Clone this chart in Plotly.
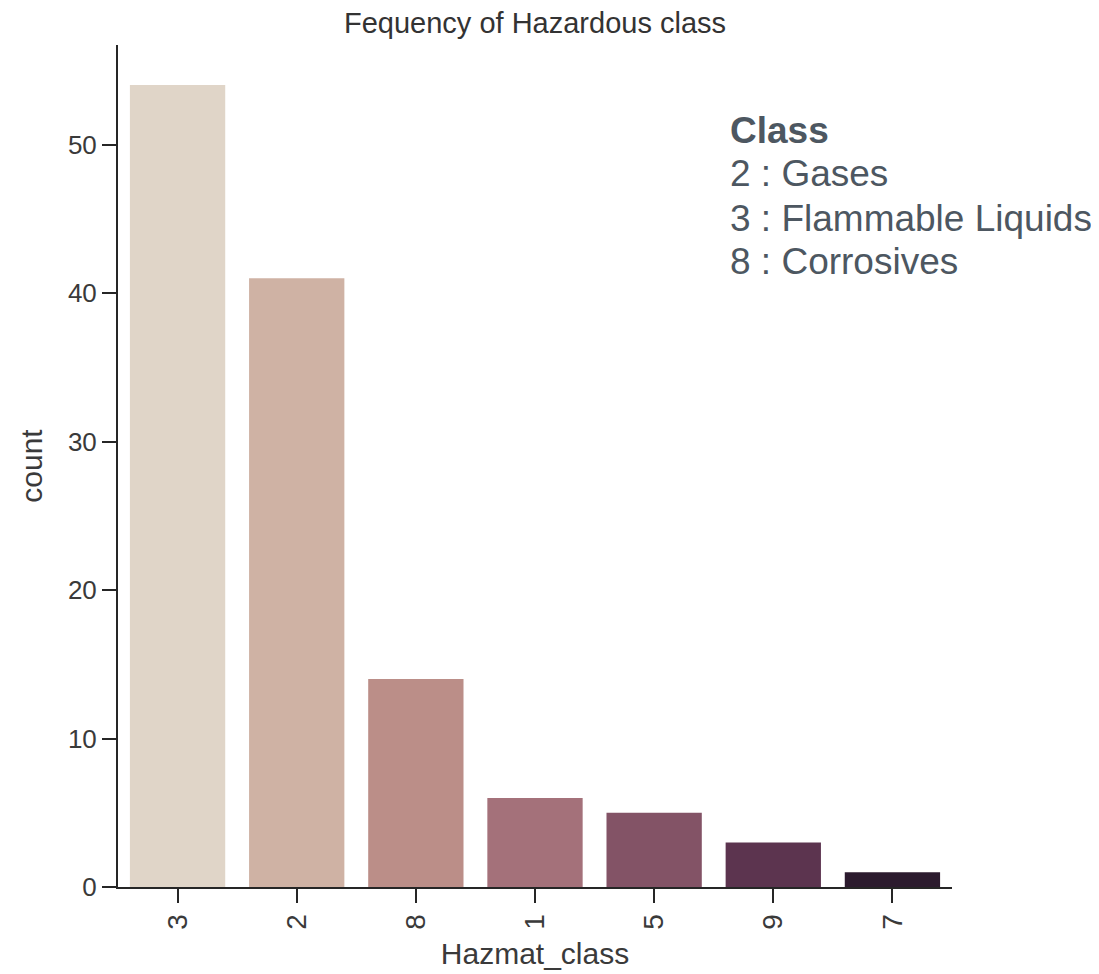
import plotly.graph_objects as go

# Data
categories = ["3", "2", "8", "1", "5", "9", "7"]
counts = [54, 41, 14, 6, 5, 3, 1]
legend_title = "Class"
legend_lines = ["2 : Gases", "3 : Flammable Liquids", "8 : Corrosives"]

bar_colors = ["#e0d5c8", "#cfb2a4", "#bb8e88", "#a4717a", "#835366", "#5c344f", "#2c1b2e"]

W, H = 1099, 974
OFF = 8  # page body margin
L, R, T, B = 118 - OFF, 952 - OFF, 45 - OFF, 887 - OFF  # plot area in figure px

fig = go.Figure(go.Bar(
    x=categories, y=counts,
    marker=dict(color=bar_colors, line=dict(width=0)),
    width=0.8,
))

axis_color = "#262626"
fam = "Liberation Sans, Arial, sans-serif"
ytick_font = dict(family=fam, size=26, color="#3a3a3a")
xtick_font = dict(family=fam, size=28, color="#3a3a3a")
label_font = dict(family=fam, size=30, color="#3a3a3a")

fig.update_layout(
    width=W, height=H,
    margin=dict(l=L, r=W - R, t=T, b=H - B, pad=0),
    plot_bgcolor="white", paper_bgcolor="white",
    showlegend=False,
    title=dict(
        text="Fequency of Hazardous class",
        font=dict(family=fam, size=29, color="#333333"),
        x=(L + R) / 2 / W, xanchor="center", xref="container",
        y=1 - (23 - OFF) / H, yanchor="middle", yref="container",
    ),
    xaxis=dict(
        type="category", range=[-0.5, 6.5],
        showline=True, linecolor=axis_color, linewidth=2,
        ticks="outside", ticklen=14, tickwidth=2, tickcolor=axis_color,
        tickangle=-90, tickfont=xtick_font,
        showgrid=False, zeroline=False,
        title=dict(text="Hazmat_class", font=label_font, standoff=14),
    ),
    yaxis=dict(
        range=[0, 56.7],
        tickvals=[0, 10, 20, 30, 40, 50],
        showline=True, linecolor=axis_color, linewidth=2,
        ticks="outside", ticklen=14, tickwidth=2, tickcolor=axis_color,
        tickfont=ytick_font,
        showgrid=False, zeroline=False,
        title=dict(text="count", font=label_font, standoff=16),
    ),
)

ann_color = "#4d5761"
line_px = [130, 174, 218, 262]
texts = ["<b>" + legend_title + "</b>"] + legend_lines
for t, ypx in zip(texts, line_px):
    fig.add_annotation(
        text=t, xref="paper", yref="paper",
        x=(728 - OFF - L) / (R - L), y=(B - (ypx - OFF)) / (B - T),
        xanchor="left", yanchor="middle", showarrow=False,
        font=dict(family=fam, size=37, color=ann_color),
    )

fig.write_html("out.html")
